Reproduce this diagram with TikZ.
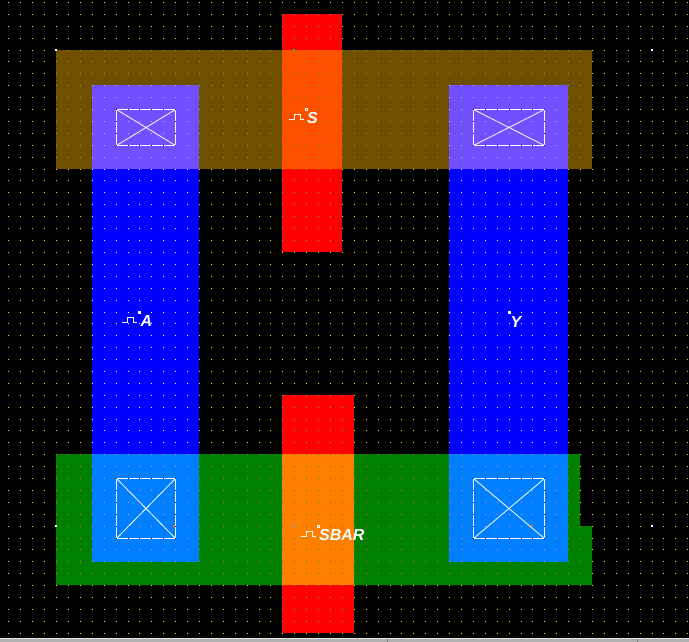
\documentclass[tikz,border=0pt]{standalone}
\usepackage{fontspec}
\setmainfont{Liberation Sans}
\def\xs{8,20,32,44,56,68,80,92,104,116,128,139,151,163,175,187,199,211,223,235,247,259,270,282,294,306,318,330,342,354,366,378,390,401,413,425,437,449,461,473,485,497,509,521,532,544,556,568,580,592,604,616,628,640,652,663,675,687}
\def\ys{2,14,26,38,50,61,73,85,97,109,121,133,145,157,169,180,192,204,216,228,240,252,264,276,288,300,312,323,335,347,359,371,383,395,407,419,430,442,454,466,478,490,502,514,526,538,549,561,573,585,597,609,621,633}
\definecolor{cbrown}{HTML}{6F5000}
\definecolor{cpurple}{HTML}{7050FF}
\definecolor{cdeep}{HTML}{FF5000}
\definecolor{corange}{HTML}{FF8000}
\definecolor{cgreen}{HTML}{008000}
\definecolor{clight}{HTML}{0080FF}
\definecolor{dbrown}{HTML}{A0A030}
\definecolor{dpurple}{HTML}{D0C0FF}
\definecolor{ddeep}{HTML}{00B000}
\definecolor{dorange}{HTML}{00A000}
\definecolor{dgreen}{HTML}{FF7000}
\definecolor{dlight}{HTML}{FF80FF}
\definecolor{dred}{HTML}{20F020}
% set the dot colour if the current grid point lies in a pixel rectangle
\newcommand{\ifin}[5]{\ifnum\x<#1 \else\ifnum\x<#3 \ifnum\y<#2 \else\ifnum\y<#4 \def\dc{#5}\fi\fi\fi\fi}
\newcommand{\ring}[4]{%
  \ifin{#1}{#2}{\numexpr#1+1\relax}{\numexpr#4+1\relax}{blue}%
  \ifin{#3}{#2}{\numexpr#3+1\relax}{\numexpr#4+1\relax}{blue}%
  \ifin{#1}{#2}{\numexpr#3+1\relax}{\numexpr#2+1\relax}{blue}%
  \ifin{#1}{#4}{\numexpr#3+1\relax}{\numexpr#4+1\relax}{blue}}
\newcommand{\contact}[4]{%
  \draw[contactline] (#1+.5,#2+.5) rectangle (#3+.5,#4+.5);
  \draw[contactcross] (#1+.5,#2+.5) -- (#3+.5,#4+.5) (#1+.5,#4+.5) -- (#3+.5,#2+.5);}
\newcommand{\pulse}[2]{\draw[pulseline] (#1-17,#2+10.5) -- (#1-12,#2+10.5) -- (#1-12,#2+5.5) -- (#1-6,#2+5.5) -- (#1-6,#2+10.5) -- (#1-2,#2+10.5);}
% pin origin: 3x3 white square with the grid dot in its middle
\newcommand{\pinmark}[3]{\fill[white] (#1-1,#2-1) rectangle ++(3,3);\fill[#3] (#1,#2) rectangle ++(1,1);}
\newcommand{\marker}[3]{\fill[#3] (#1-1,#2-1) rectangle ++(2,2);}
\tikzset{
  contactline/.style={white,line width=1pt},
  contactcross/.style={white,line width=.8pt},
  pulseline/.style={white,line width=1pt},
  pinlabel/.style={text=white,inner sep=0pt,anchor=base west,font=\fontsize{16}{16}\selectfont\bfseries\itshape},
}
\begin{document}
\begin{tikzpicture}[x=1pt,y=-1pt]
\useasboundingbox (0,0) rectangle (689,642);
\fill[black] (0,0) rectangle (689,642);
% metal bars
\fill[cbrown] (56,50) rectangle (592,169);
\fill[cgreen] (56,454) -- (580,454) -- (580,526) -- (592,526) -- (592,585) -- (56,585) -- cycle;
% poly
\fill[red] (282,14) rectangle (342,252);
\fill[red] (282,395) rectangle (354,633);
% vertical straps
\fill[blue] (92,85) rectangle (199,562);
\fill[blue] (449,85) rectangle (568,562);
% overlaps
\fill[cpurple] (92,85) rectangle (199,169);
\fill[cpurple] (449,85) rectangle (568,169);
\fill[clight] (92,454) rectangle (199,562);
\fill[clight] (449,454) rectangle (568,562);
\fill[cdeep] (282,50) rectangle (342,169);
\fill[corange] (282,454) rectangle (354,585);
% contacts
\contact{116}{109}{175}{145}
\contact{473}{109}{544}{145}
\contact{116}{478}{175}{538}
\contact{473}{478}{544}{538}
% grid dots
\foreach \x in \xs {\foreach \y in \ys {%
  \def\dc{yellow}%
  \ifin{56}{50}{592}{169}{dbrown}%
  \ifin{56}{454}{580}{585}{dgreen}%
  \ifin{580}{526}{592}{585}{dgreen}%
  \ifin{282}{14}{342}{252}{dred}%
  \ifin{282}{395}{354}{633}{dred}%
  \ifin{92}{85}{199}{562}{white}%
  \ifin{449}{85}{568}{562}{white}%
  \ifin{92}{85}{199}{169}{dpurple}%
  \ifin{449}{85}{568}{169}{dpurple}%
  \ifin{92}{454}{199}{562}{dlight}%
  \ifin{449}{454}{568}{562}{dlight}%
  \ifin{282}{50}{342}{169}{ddeep}%
  \ifin{282}{454}{354}{585}{dorange}%
  \ring{116}{109}{175}{145}%
  \ring{473}{109}{544}{145}%
  \ring{116}{478}{175}{538}%
  \ring{473}{478}{544}{538}%
  \fill[\dc] (\x,\y) rectangle ++(1,1);
}}
% pins
\pulse{306}{109}
\pulse{139}{312}
\pulse{318}{526}
\pinmark{306}{109}{cdeep}
\pinmark{139}{312}{white}
\pinmark{509}{312}{white}
\pinmark{318}{526}{corange}
\node[pinlabel] (labelS) at (307,123.6) {S};
\node[pinlabel] (labelA) at (140.5,326.6) {A};
\node[pinlabel] (labelY) at (510.5,327) {Y};
\node[pinlabel] (labelSBAR) at (319,540.6) {SBAR};
% origin markers
\marker{56}{50}{white}
\marker{652}{50}{white}
\marker{56}{526}{white}
\marker{652}{526}{white}
\marker{294}{50}{ddeep!60!cyan}
\marker{294}{526}{cyan!40!gray}
\marker{174}{526}{dgreen}
\marker{532}{526}{dgreen}
% window edge
\fill[gray!60] (0,638) rectangle (689,642);
\fill[white!90!black] (0,638) rectangle (689,639);
\fill[gray] (387,639) rectangle ++(1,3);
\fill[gray] (637,639) rectangle ++(1,3);
\end{tikzpicture}
\end{document}
